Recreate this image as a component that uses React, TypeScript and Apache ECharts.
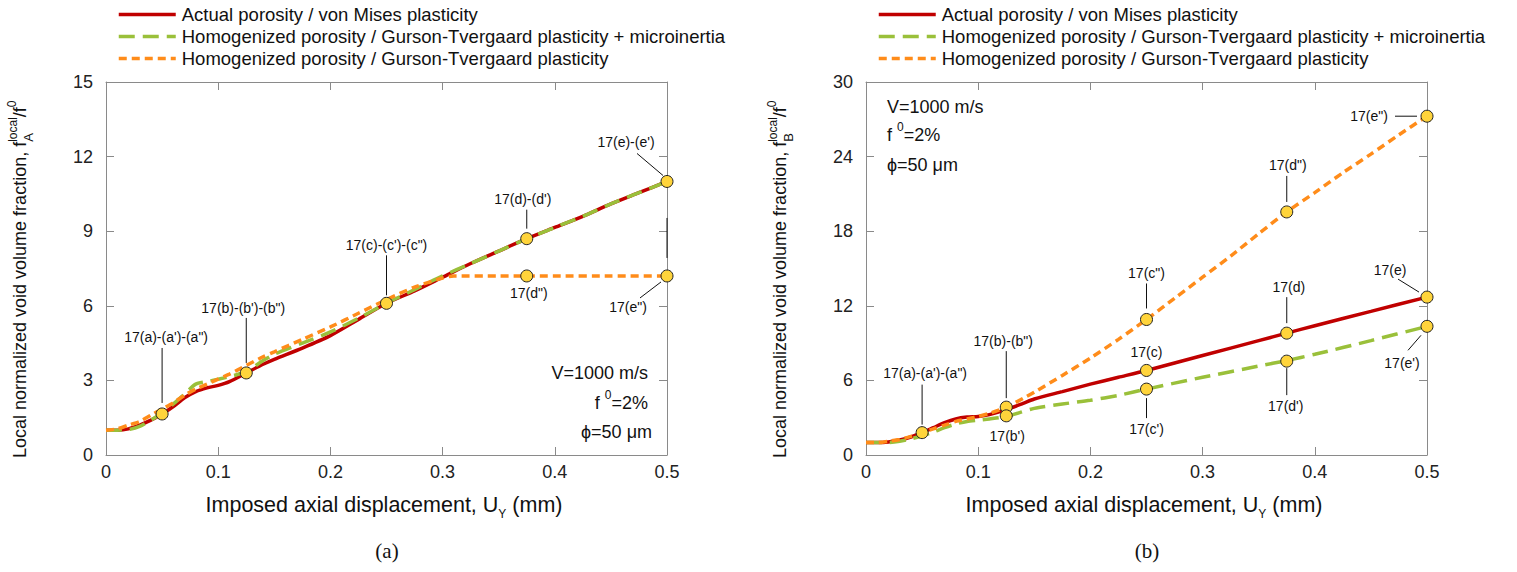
import React, { useEffect, useRef } from "react";
import * as echarts from "echarts";

const FONT = "'Liberation Sans', Arial, Helvetica, sans-serif";
const SERIF = "'Liberation Serif', 'DejaVu Serif', serif";

const seriesNames = [
  "Actual porosity / von Mises plasticity",
  "Homogenized porosity / Gurson-Tvergaard plasticity + microinertia",
  "Homogenized porosity / Gurson-Tvergaard plasticity",
];

// ---------- Plot (a) ----------
const aRedX = [0, 0.01, 0.02, 0.03, 0.04, 0.05, 0.06, 0.07, 0.08, 0.09, 0.1, 0.11, 0.125, 0.14, 0.15, 0.175, 0.2, 0.225, 0.25, 0.275, 0.3, 0.325, 0.35, 0.375, 0.4, 0.425, 0.45, 0.475, 0.5];
const aRedY = [1.0, 1.0, 1.05, 1.2, 1.4, 1.65, 1.95, 2.3, 2.55, 2.7, 2.8, 2.95, 3.3, 3.65, 3.85, 4.3, 4.8, 5.45, 6.1, 6.6, 7.15, 7.7, 8.2, 8.7, 9.15, 9.6, 10.1, 10.55, 11.0];
const aGreenX = [0, 0.01, 0.02, 0.03, 0.04, 0.05, 0.06, 0.07, 0.08, 0.09, 0.1, 0.11, 0.125, 0.14, 0.15, 0.175, 0.2, 0.225, 0.25, 0.275, 0.3, 0.325, 0.35, 0.375, 0.4, 0.425, 0.45, 0.475, 0.5];
const aGreenY = [1.0, 1.0, 1.02, 1.15, 1.4, 1.7, 2.05, 2.45, 2.85, 2.95, 3.05, 3.15, 3.35, 3.8, 4.05, 4.5, 4.95, 5.5, 6.1, 6.65, 7.2, 7.7, 8.2, 8.7, 9.15, 9.6, 10.1, 10.55, 11.0];
const aOrangeX = [0, 0.01, 0.02, 0.03, 0.04, 0.05, 0.06, 0.07, 0.08, 0.09, 0.1, 0.11, 0.125, 0.14, 0.15, 0.175, 0.2, 0.225, 0.25, 0.275, 0.3, 0.31, 0.35, 0.4, 0.45, 0.5];
const aOrangeY = [1.0, 1.05, 1.2, 1.35, 1.6, 1.85, 2.1, 2.4, 2.65, 2.85, 3.05, 3.25, 3.6, 3.95, 4.15, 4.65, 5.15, 5.7, 6.25, 6.75, 7.12, 7.2, 7.2, 7.2, 7.2, 7.2];
const aMarkerX = [0.05, 0.125, 0.25, 0.375, 0.5, 0.375, 0.5];
const aMarkerY = [1.65, 3.3, 6.1, 8.7, 11.0, 7.2, 7.2];
const aMarkerLabels = ["17(a)-(a')-(a\")", "17(b)-(b')-(b\")", "17(c)-(c')-(c\")", "17(d)-(d')", "17(e)-(e')", "17(d\")", "17(e\")"];
const aYTicks = { min: 0, max: 15, interval: 3 };

// ---------- Plot (b) ----------
const bRedX = [0, 0.01, 0.02, 0.03, 0.04, 0.05, 0.06, 0.07, 0.08, 0.09, 0.1, 0.11, 0.125, 0.14, 0.15, 0.175, 0.2, 0.225, 0.25, 0.3, 0.35, 0.375, 0.4, 0.45, 0.5];
const bRedY = [1.0, 1.0, 1.05, 1.2, 1.45, 1.8, 2.2, 2.6, 2.9, 3.05, 3.1, 3.25, 3.65, 4.15, 4.5, 5.1, 5.7, 6.25, 6.8, 8.0, 9.2, 9.8, 10.4, 11.55, 12.7];
const bGreenX = [0, 0.01, 0.02, 0.03, 0.04, 0.05, 0.06, 0.07, 0.08, 0.09, 0.1, 0.11, 0.125, 0.15, 0.175, 0.2, 0.225, 0.25, 0.3, 0.35, 0.375, 0.4, 0.45, 0.5];
const bGreenY = [1.0, 1.0, 1.0, 1.1, 1.3, 1.55, 1.85, 2.2, 2.5, 2.7, 2.8, 2.9, 3.1, 3.75, 4.1, 4.4, 4.8, 5.3, 6.25, 7.15, 7.6, 8.1, 9.2, 10.35];
const bOrangeX = [0, 0.01, 0.02, 0.03, 0.04, 0.05, 0.06, 0.07, 0.08, 0.09, 0.1, 0.11, 0.125, 0.14, 0.15, 0.175, 0.2, 0.225, 0.25, 0.275, 0.3, 0.325, 0.35, 0.375, 0.4, 0.425, 0.45, 0.475, 0.5];
const bOrangeY = [1.0, 1.0, 1.1, 1.25, 1.5, 1.8, 2.1, 2.4, 2.7, 2.9, 3.1, 3.35, 3.85, 4.55, 5.05, 6.4, 7.8, 9.3, 10.9, 12.6, 14.3, 16.0, 17.8, 19.55, 21.1, 22.7, 24.2, 25.75, 27.25];
const bMarkerX = [0.05, 0.125, 0.125, 0.25, 0.25, 0.25, 0.375, 0.375, 0.375, 0.5, 0.5, 0.5];
const bMarkerY = [1.8, 3.85, 3.15, 10.9, 6.8, 5.3, 19.55, 9.8, 7.55, 27.25, 12.7, 10.35];
const bMarkerLabels = ["17(a)-(a')-(a\")", "17(b)-(b\")", "17(b')", "17(c\")", "17(c)", "17(c')", "17(d\")", "17(d)", "17(d')", "17(e\")", "17(e)", "17(e')"];
const bYTicks = { min: 0, max: 30, interval: 6 };

const xTicks = { min: 0, max: 0.5, interval: 0.1 };

// ---------- Layout (label offsets from markers, px) ----------
type Lay = { dx: number; dy: number; lines: number[][] };
const aLayout: Lay[] = [
  { dx: 4, dy: -77, lines: [[0, -66, 0, -11]] },
  { dx: -3, dy: -65, lines: [[0, -55, 0, -10]] },
  { dx: 0, dy: -58, lines: [[0, -48, 0, -8]] },
  { dx: -4, dy: -40, lines: [[0, -29, 0, -10]] },
  { dx: -41, dy: -39, lines: [[-30, -28, -4, -6]] },
  { dx: 2, dy: 17, lines: [] },
  { dx: -39, dy: 31, lines: [[-27, 22, -6, 6], [0, -58, 0, -18]] },
];
const bLayout: Lay[] = [
  { dx: 3, dy: -60, lines: [[0, -48, 0, -8]] },
  { dx: -3, dy: -66, lines: [[0, -56, 0, -9]] },
  { dx: 1, dy: 20, lines: [] },
  { dx: 0, dy: -46, lines: [[0, -36, 0, -11]] },
  { dx: 0, dy: -18, lines: [] },
  { dx: 0, dy: 40, lines: [[0, 9, 0, 29]] },
  { dx: 1, dy: -47, lines: [[0, -36, 0, -10]] },
  { dx: 2, dy: -46, lines: [[0, -36, 0, -10]] },
  { dx: -1, dy: 45, lines: [[0, 7, 0, 34]] },
  { dx: -58, dy: 0, lines: [[-32, 0, -10, 0]] },
  { dx: -37, dy: -27, lines: [[-29, -18, -8, -5]] },
  { dx: -25, dy: 37, lines: [[-19, 24, -6, 9]] },
];

const RED = "#C00000";
const GREEN = "#9AC03A";
const ORANGE = "#FF8C1A";
const AXIS = "#8a8a8a";
const MARK = "#FFD43B";

let ctx: CanvasRenderingContext2D | null = null;
function measure(t: string, size: number, weight = "normal", family = FONT) {
  if (!ctx) ctx = document.createElement("canvas").getContext("2d");
  ctx!.font = `${weight} ${size}px ${family}`;
  return ctx!.measureText(t).width;
}
type Seg = { t: string; size: number; dy?: number; keep?: boolean; weight?: string; family?: string };
function compose(segs: Seg[], x: number, y: number, anchor: "start" | "center" | "end", rotation = 0): any {
  let cx = 0;
  let pend = 0;
  const items: any[] = [];
  for (const s of segs) {
    const w = measure(s.t, s.size, s.weight, s.family);
    items.push({ ...s, x: cx });
    if (s.keep) pend = Math.max(pend, w);
    else {
      cx += Math.max(pend, w);
      pend = 0;
    }
  }
  const off = anchor === "start" ? 0 : anchor === "center" ? -cx / 2 : -cx;
  return {
    type: "group",
    x,
    y,
    rotation,
    silent: true,
    children: items.map((it) => ({
      type: "text",
      x: it.x + off,
      y: it.dy || 0,
      style: {
        text: it.t,
        fill: "#111",
        font: `${it.weight || "normal"} ${it.size}px ${it.family || FONT}`,
        textAlign: "left",
        textVerticalAlign: "middle",
        align: "left",
        verticalAlign: "middle",
      },
    })),
  };
}

function pairs(xs: number[], ys: number[]) {
  return xs.map((x, i) => [x, ys[i]]);
}

function xAxis(gridIndex: number, position: string, showLabel: boolean) {
  return {
    type: "value",
    gridIndex,
    position,
    ...xTicks,
    axisLine: { show: true, onZero: false, lineStyle: { color: AXIS, width: 1 } },
    axisTick: { show: true, inside: true, length: 8, lineStyle: { color: AXIS } },
    axisLabel: { show: showLabel, fontSize: 18, color: "#222", fontFamily: FONT, margin: 8 },
    splitLine: { show: false },
  };
}
function yAxis(gridIndex: number, position: string, showLabel: boolean, t: any) {
  return {
    type: "value",
    gridIndex,
    position,
    ...t,
    axisLine: { show: true, onZero: false, lineStyle: { color: AXIS, width: 1 } },
    axisTick: { show: true, inside: true, length: 8, lineStyle: { color: AXIS } },
    axisLabel: { show: showLabel, fontSize: 18, color: "#222", fontFamily: FONT, margin: 13 },
    splitLine: { show: false },
  };
}

function lineSeries(name: string, xi: number, xs: number[], ys: number[], color: string, type: any) {
  return {
    type: "line",
    name,
    xAxisIndex: xi,
    yAxisIndex: xi,
    data: pairs(xs, ys),
    symbol: "none",
    showSymbol: false,
    smooth: 0.25,
    lineStyle: { color, width: 3.5, type },
    itemStyle: { color },
    z: 2,
  };
}
function markerSeries(xi: number, xs: number[], ys: number[]) {
  return {
    type: "scatter",
    name: "markers" + xi,
    xAxisIndex: xi,
    yAxisIndex: xi,
    data: pairs(xs, ys),
    symbol: "circle",
    symbolSize: 12,
    itemStyle: { color: MARK, borderColor: "#222", borderWidth: 1, opacity: 1 },
    z: 5,
  };
}

function legend(left: number) {
  return {
    orient: "vertical",
    left,
    top: 5,
    padding: 0,
    itemWidth: 57,
    itemHeight: 14,
    itemGap: 3,
    data: seriesNames,
    itemStyle: { opacity: 0 },
    lineStyle: { width: 3.5 },
    textStyle: { fontSize: 18.5, fontFamily: FONT, color: "#111", padding: [0, 0, 0, 1] },
    selectedMode: false,
  };
}

const option: any = {
  animation: false,
  backgroundColor: "#fff",
  legend: [legend(117), legend(877)],
  grid: [
    { left: 106, top: 82, width: 561, height: 373 },
    { left: 866, top: 82, width: 561, height: 373 },
  ],
  xAxis: [xAxis(0, "bottom", true), xAxis(0, "top", false), xAxis(1, "bottom", true), xAxis(1, "top", false)],
  yAxis: [
    yAxis(0, "left", true, aYTicks),
    yAxis(0, "right", false, aYTicks),
    yAxis(1, "left", true, bYTicks),
    yAxis(1, "right", false, bYTicks),
  ],
  series: [
    lineSeries(seriesNames[0], 0, aRedX, aRedY, RED, "solid"),
    lineSeries(seriesNames[1], 0, aGreenX, aGreenY, GREEN, [16, 8]),
    lineSeries(seriesNames[2], 0, aOrangeX, aOrangeY, ORANGE, [8, 5]),
    markerSeries(0, aMarkerX, aMarkerY),
    lineSeries(seriesNames[0], 2, bRedX, bRedY, RED, "solid"),
    lineSeries(seriesNames[1], 2, bGreenX, bGreenY, GREEN, [16, 8]),
    lineSeries(seriesNames[2], 2, bOrangeX, bOrangeY, ORANGE, [8, 5]),
    markerSeries(2, bMarkerX, bMarkerY),
  ],
};

function annotations(chart: any, axisIdx: number, xs: number[], ys: number[], labels: string[], lay: Lay[]) {
  const out: any[] = [];
  xs.forEach((x, i) => {
    const p = chart.convertToPixel({ xAxisIndex: axisIdx, yAxisIndex: axisIdx }, [x, ys[i]]);
    const L = lay[i];
    out.push({
      type: "text",
      x: p[0] + L.dx,
      y: p[1] + L.dy,
      z: 100,
      silent: true,
      style: {
        text: labels[i],
        fill: "#111",
        font: `14px ${FONT}`,
        textAlign: "center",
        textVerticalAlign: "middle",
        align: "center",
        verticalAlign: "middle",
      },
    });
    for (const ln of L.lines) {
      out.push({
        type: "line",
        z: 100,
        silent: true,
        shape: { x1: p[0] + ln[0], y1: p[1] + ln[1], x2: p[0] + ln[2], y2: p[1] + ln[3] },
        style: { stroke: "#111", lineWidth: 1 },
      });
    }
  });
  return out;
}

function yTitle(x: number, sub: string) {
  return compose(
    [
      { t: "Local normalized void volume fraction, f", size: 18 },
      { t: sub, size: 13, dy: 8, keep: true },
      { t: "local", size: 12, dy: -7 },
      { t: "/f", size: 18 },
      { t: "0", size: 12, dy: -8 },
    ],
    x,
    458,
    "start",
    Math.PI / 2
  );
}
function xTitle(cx: number) {
  return compose(
    [
      { t: "Imposed axial displacement, U", size: 21.5 },
      { t: "Y", size: 12, dy: 9 },
      { t: " (mm)", size: 21.5 },
    ],
    cx,
    505,
    "center"
  );
}
function params(x: number, ys: number[], anchor: "start" | "end", ends: number[]) {
  return [
    compose([{ t: "V=1000 m/s", size: 18 }], x + ends[0], ys[0], anchor),
    compose(
      [
        { t: "f ", size: 18 },
        { t: "0", size: 12, dy: -8 },
        { t: "=2%", size: 18 },
      ],
      x + ends[1],
      ys[1],
      anchor
    ),
    compose([{ t: "\u03D5=50 \u03BCm", size: 18 }], x + ends[2], ys[2], anchor),
  ];
}

export default function App() {
  const ref = useRef<HTMLDivElement>(null);
  useEffect(() => {
    const chart = echarts.init(ref.current!, null, { renderer: "svg" });
    chart.setOption(option);
    const graphics: any[] = [
      yTitle(20, "A"),
      yTitle(780, "B"),
      xTitle(384),
      xTitle(1144),
      compose([{ t: "(a)", size: 21, family: SERIF }], 387, 551, "center"),
      compose([{ t: "(b)", size: 21, family: SERIF }], 1147, 551, "center"),
      ...params(648, [373, 403, 432], "end", [0, 0, 4]),
      ...params(887, [107, 135, 165], "start", [0, 0, 0]),
      ...annotations(chart, 0, aMarkerX, aMarkerY, aMarkerLabels, aLayout),
      ...annotations(chart, 2, bMarkerX, bMarkerY, bMarkerLabels, bLayout),
    ];
    chart.setOption({ graphic: graphics });
    return () => chart.dispose();
  }, []);
  return <div ref={ref} style={{ position: "absolute", left: 0, top: 0, width: 1517, height: 572 }} />;
}
